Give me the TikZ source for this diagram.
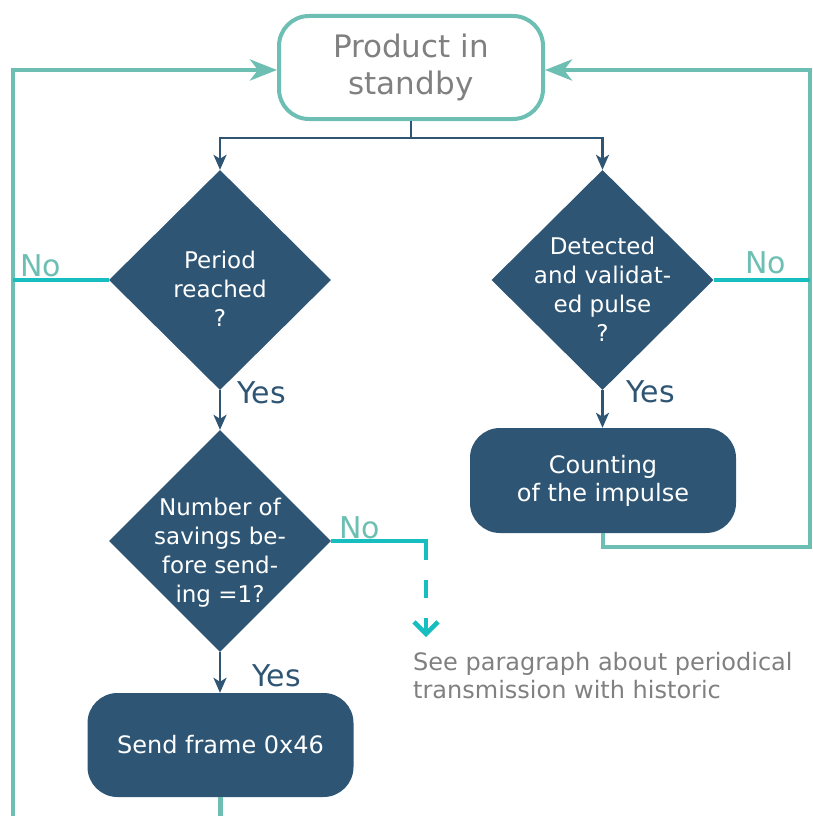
\documentclass[tikz,border=0pt]{standalone}
\usepackage{fontspec}
\setmainfont{DejaVu Sans}
\usetikzlibrary{arrows.meta,shapes.geometric}
\definecolor{navy}{HTML}{2E5574}
\definecolor{tealx}{HTML}{6CBFB2}
\definecolor{cyanx}{HTML}{17BEBF}
\definecolor{graytxt}{HTML}{808080}
\begin{document}
\begin{tikzpicture}[x=1pt,y=-1pt,
  dec/.style={diamond, fill=navy, inner sep=0pt, minimum width=222pt, minimum height=220pt},
  dtext/.style={text=white, align=center, inner sep=0pt, font=\fontsize{23}{29}\selectfont},
  procbox/.style={rounded corners=30pt, fill=navy, text=white, minimum width=266pt, minimum height=105pt, inner sep=0pt, align=center, font=\fontsize{24}{28}\selectfont},
  startbox/.style={rounded corners=30pt, draw=tealx, line width=4pt, text=graytxt, minimum width=264pt, minimum height=103pt, inner sep=0pt, align=center, font=\fontsize{31}{37}\selectfont},
  yeslbl/.style={text=navy, anchor=base west, inner sep=0pt, font=\fontsize{30}{36}\selectfont},
  nolbl/.style={text=tealx, anchor=base west, inner sep=0pt, font=\fontsize{30}{36}\selectfont},
  notetext/.style={text=graytxt, align=left, anchor=north west, inner sep=0pt, font=\fontsize{24}{28}\selectfont},
  navyline/.style={draw=navy, line width=2.5pt},
  navyarrow/.style={navyline, -{Stealth[length=15pt,width=13pt,inset=4pt]}},
  tealline/.style={draw=tealx, line width=4.5pt},
  tealarrow/.style={tealline, -{Stealth[length=27pt,width=21pt,inset=8pt]}},
  cyanline/.style={draw=cyanx, line width=4.5pt},
]
\useasboundingbox (0,0) rectangle (812,816);

% nodes
\node[startbox] (sb) at (411,67.5) {Product in\\standby};
\node[dec] (d1) at (220,280) {};
\node[dtext] (d1t) at (220,289) {Period\\reached\\?};
\node[dec] (d2) at (602.5,280) {};
\node[dtext] (d2t) at (602.5,289) {Detected\\and validat-\\ed pulse\\?};
\node[dec, minimum height=222pt] (d3) at (220,541) {};
\node[dtext] (d3t) at (220,553) {Number of\\savings be-\\fore send-\\ing =1?};
\node[procbox] (cnt) at (603,480.5) {Counting\\of the impulse};
\node[procbox, minimum height=104pt] (snd) at (220.5,745) {Send frame 0x46};
\node[notetext] (note) at (413,652) {See paragraph about periodical\\transmission with historic};

% labels
\node[yeslbl] (y1) at (237,403) {Yes};
\node[yeslbl] (y2) at (626,402) {Yes};
\node[yeslbl] (y3) at (252,686) {Yes};
\node[nolbl] (n1) at (20,276) {No};
\node[nolbl] (n2) at (745,273) {No};
\node[nolbl] (n3) at (339,538) {No};

% coordinates
\coordinate (bl) at (13,816);
\coordinate (rc) at (810,547);
\coordinate (sbot) at (220.5,816);
\coordinate (c1) at (426,560);
\coordinate (nt) at (426,637);

% split from standby
\draw[navyline] (sb.south) -- ++(0,17) coordinate (j);
\draw[navyarrow] (j) -| (d1.north);
\draw[navyarrow] (j) -| (d2.north);

% yes arrows
\draw[navyarrow] (d1.south) -- (d3.north);
\draw[navyarrow] (d2.south) -- (d2.south |- cnt.north);
\draw[navyarrow] (d3.south) -- (d3.south |- snd.north);

% loops back to standby
\draw[tealarrow] (bl) |- ([yshift=-2.5pt]sb.west);
\draw[tealarrow] (cnt.south) |- (rc) |- ([yshift=-2.5pt]sb.east);
\draw[tealline] (snd.south) -- (sbot);

% no branches
\draw[cyanline] (d1.west) -- (d1.west -| bl);
\draw[cyanline] (d2.east) -- (d2.east -| rc);
\draw[cyanline] (d3.east) -| (c1);
\draw[cyanline, dash pattern=on 18pt off 20pt, dash phase=18pt, -{Straight Barb[length=12pt,width=24pt]}] (c1) -- (nt);
\end{tikzpicture}
\end{document}
